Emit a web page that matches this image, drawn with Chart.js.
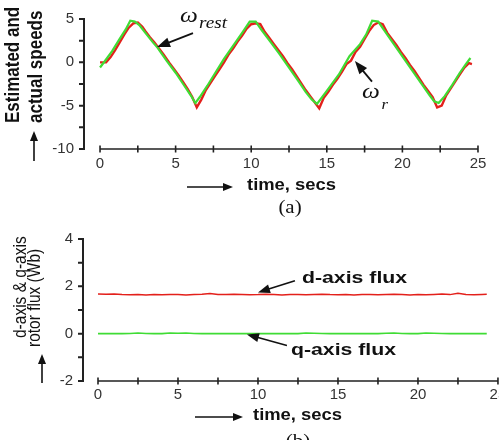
<!DOCTYPE html>
<html><head><meta charset="utf-8">
<script src="https://cdn.jsdelivr.net/npm/chart.js@4.4.1/dist/chart.umd.min.js"></script>
<style>
html,body{margin:0;padding:0;background:#fff;overflow:hidden;width:499px;height:440px}
#c1{position:absolute;left:0;top:0}
#c2{position:absolute;left:0;top:220px}
</style></head><body>
<canvas id="c1" width="499" height="220"></canvas>
<canvas id="c2" width="520" height="220"></canvas>
<script>
// ---------- data (a): speeds ----------
const estTime = [0,0.3,0.8,1.3,1.7,2.0,2.3,2.6,3.0,3.5,3.8,4.4,5.0,5.5,6.0,6.3,6.6,7.1,7.7,8.2,8.8,9.4,9.9,10.3,10.7,11.3,11.9,12.5,13.1,13.6,14.0,14.35,14.7,15.0,15.8,16.5,17.2,17.6,18.0,18.4,18.8,19.4,20.0,20.6,21.2,21.8,22.1,22.4,22.8,23.3,23.8,24.2,24.5];
const estSpeed = [-0.6,0.1,1.3,2.7,3.8,4.8,4.7,4.3,3.4,2.3,1.7,0.2,-1.2,-2.5,-3.8,-4.7,-4.0,-2.7,-1.0,0.4,1.9,3.4,4.7,4.7,3.7,2.3,0.9,-0.6,-2.1,-3.4,-4.3,-4.8,-4.0,-3.3,-1.4,0.7,2.1,3.2,4.8,4.7,3.7,2.2,0.7,-0.8,-2.3,-3.8,-4.5,-4.7,-3.9,-2.6,-1.2,-0.2,0.5];
const actTime = [0,0.4,0.7,1.0,1.3,1.6,1.9,2.2,2.5,2.8,3.0,3.3,3.6,3.9,4.2,4.6,4.9,5.2,5.5,5.8,6.1,6.4,6.7,7.0,7.3,7.6,7.9,8.2,8.5,8.8,9.1,9.4,9.7,10.0,10.3,10.6,10.9,11.2,11.5,11.8,12.1,12.4,12.7,13.0,13.3,13.6,13.9,14.2,14.5,14.8,15.1,15.4,15.7,16.0,16.3,16.6,16.9,17.2,17.5,17.8,18.1,18.4,18.7,19.0,19.3,19.6,19.9,20.2,20.5,20.8,21.1,21.4,21.7,22.0,22.3,22.6,22.9,23.2,23.5,23.8,24.1,24.4,24.6];
const actSpeed = [0,0.0,0.6,1.4,2.3,3.2,4.0,4.5,4.6,4.1,3.6,2.9,2.3,1.6,0.9,-0.1,-0.8,-1.5,-2.3,-3.1,-4.0,-5.2,-4.3,-3.2,-2.4,-1.6,-0.8,0.0,0.9,1.6,2.4,3.1,3.9,4.4,4.5,4.4,3.5,2.8,2.1,1.4,0.7,-0.1,-0.8,-1.6,-2.4,-3.2,-3.9,-4.6,-5.3,-4.1,-3.4,-2.6,-1.9,-1.1,-0.2,0.2,1.2,1.8,2.7,3.6,4.3,4.6,4.4,3.4,2.7,2.0,1.2,0.5,-0.3,-1.0,-1.8,-2.6,-3.3,-4.0,-5.2,-5.0,-3.8,-3.0,-2.2,-1.4,-0.6,-0.1,-0.2];
const speedYTicks = [-10,-7.5,-5,-2.5,0,2.5,5];
const timeTicks = [0,2.5,5,7.5,10,12.5,15,17.5,20,22.5,25];

// ---------- data (b): rotor flux ----------
const fluxTime = [0,0.5,1,1.5,2,2.5,3,3.5,4,4.5,5,5.5,6,6.5,7,7.5,8,8.5,9,9.5,10,10.5,11,11.5,12,12.5,13,13.5,14,14.5,15,15.5,16,16.5,17,17.5,18,18.5,19,19.5,20,20.5,21,21.5,22,22.5,23,23.5,24,24.3];
const dFlux = [1.68,1.67,1.68,1.65,1.64,1.66,1.63,1.65,1.64,1.66,1.65,1.63,1.66,1.67,1.70,1.66,1.65,1.67,1.66,1.64,1.65,1.67,1.65,1.63,1.66,1.65,1.64,1.66,1.67,1.65,1.64,1.66,1.63,1.65,1.66,1.64,1.66,1.67,1.65,1.63,1.66,1.64,1.66,1.68,1.65,1.71,1.66,1.64,1.66,1.67];
const qFlux = [0,0,0,0,0.01,0.03,0.01,0,0,0.03,0.02,0.03,0.01,0,0,0,0,0,0,0,0,0,0,0,0,0,0.03,0.02,0.01,0,0,0,0,0,0,0,0.02,0.03,0.01,0,0,0.03,0.02,0.01,0,0,0,0,0,0];
const fluxYTicks = [-2,-1,0,1,2,3,4];

const pts = (xs, ys) => xs.map((x, i) => ({x, y: ys[i]}));
const RED = '#e3201b', GREEN = '#3fdc34', INK = '#111';

function arrow(ctx, x1, y1, x2, y2, hl, hw, lw) {
  const a = Math.atan2(y2 - y1, x2 - x1);
  ctx.save();
  ctx.strokeStyle = INK; ctx.fillStyle = INK; ctx.lineWidth = lw;
  ctx.beginPath(); ctx.moveTo(x1, y1);
  ctx.lineTo(x2 - Math.cos(a) * hl * 0.8, y2 - Math.sin(a) * hl * 0.8); ctx.stroke();
  ctx.translate(x2, y2); ctx.rotate(a);
  ctx.beginPath(); ctx.moveTo(0, 0); ctx.lineTo(-hl, hw / 2); ctx.lineTo(-hl, -hw / 2); ctx.closePath(); ctx.fill();
  ctx.restore();
}
function text(ctx, s, x, y, font, sx, align) {
  ctx.save(); ctx.translate(x, y); ctx.scale(sx, 1);
  ctx.font = font; ctx.fillStyle = INK; ctx.textAlign = align || 'left'; ctx.textBaseline = 'middle';
  ctx.fillText(s, 0, 0); ctx.restore();
}
function vtext(ctx, s, x, yBottom, font, sx) {
  ctx.save(); ctx.translate(x, yBottom); ctx.scale(sx, 1); ctx.rotate(-Math.PI / 2);
  ctx.font = font; ctx.fillStyle = INK; ctx.textAlign = 'left'; ctx.textBaseline = 'middle';
  ctx.fillText(s, 0, 0); ctx.restore();
}

const axesPlugin = {
  id: 'customAxes',
  afterDraw(chart) {
    const {ctx, chartArea, scales: {x, y}} = chart;
    ctx.save();
    ctx.strokeStyle = '#222';
    const ax = chartArea.left;
    const yTop = y.getPixelForValue(y.max), yBot = y.getPixelForValue(y.min);
    ctx.lineWidth = 2;
    ctx.beginPath(); ctx.moveTo(ax, yTop - 1); ctx.lineTo(ax, yBot + 1);
    y.ticks.forEach(t => { const py = y.getPixelForValue(t.value); ctx.moveTo(ax, py); ctx.lineTo(ax - 5, py); });
    ctx.stroke();
    const xs = x.ticks.map(t => x.getPixelForValue(t.value));
    ctx.lineWidth = 1.6;
    ctx.beginPath(); ctx.moveTo(xs[0], yBot); ctx.lineTo(xs[xs.length - 1], yBot);
    xs.forEach(px => { ctx.moveTo(px, yBot - 3.5); ctx.lineTo(px, yBot + 3.5); });
    ctx.stroke();
    ctx.restore();
  }
};

function baseOptions(xmin, xmax, ymin, ymax, yTicks, pad, yW, xH, labelPad) {
  return {
    responsive: false, animation: false, devicePixelRatio: 1,
    layout: {padding: pad},
    plugins: {legend: {display: false}, tooltip: {enabled: false}},
    scales: {
      x: {
        type: 'linear', min: xmin, max: xmax,
        afterBuildTicks: s => { s.ticks = timeTicks.map(v => ({value: v})); },
        afterFit: s => { s.height = xH; },
        grid: {display: false, drawTicks: false},
        border: {display: false},
        ticks: {padding: labelPad, color: '#333', font: {family: 'Liberation Sans, Arial', size: 15},
          maxRotation: 0, autoSkip: false, callback: v => (v % 5 === 0 ? String(v) : '')}
      },
      y: {
        type: 'linear', min: ymin, max: ymax,
        afterBuildTicks: s => { s.ticks = yTicks.map(v => ({value: v})); },
        afterFit: s => { s.width = yW; },
        grid: {display: false, drawTicks: false},
        border: {display: false},
        ticks: {padding: 10, color: '#333', font: {family: 'Liberation Sans, Arial', size: 15},
          autoSkip: false, callback: v => (Math.abs(v) % (ymax === 5 ? 5 : 2) === 0 ? String(v) : '')}
      }
    }
  };
}

// ---------- chart (a) ----------
const annotA = {
  id: 'annotA',
  afterDraw(chart) {
    const {ctx, scales: {x, y}} = chart;
    const X = v => x.getPixelForValue(v), Y = v => y.getPixelForValue(v);
    vtext(ctx, 'Estimated and', 13, 123, 'bold 17px "Liberation Sans", Arial', 1.2);
    vtext(ctx, 'actual speeds', 36, 123, 'bold 17px "Liberation Sans", Arial', 1.2);
    arrow(ctx, 34, 161, 34, 131, 10, 8, 1.6);
    arrow(ctx, 187, 187, 233, 187, 10, 8, 1.6);
    text(ctx, 'time, secs', 247, 186, 'bold 16px "Liberation Sans", Arial', 1.15);
    text(ctx, '(a)', 290, 208, '19px "Liberation Serif", "Times New Roman", serif', 1.1, 'center');
    text(ctx, 'ω', X(5.29), Y(5.3), 'italic 21px "Liberation Serif", serif', 1.2);
    text(ctx, 'rest', X(6.55), Y(4.45), 'italic 16px "Liberation Serif", serif', 1.2);
    arrow(ctx, X(6.15), Y(3.38), X(3.77), Y(1.76), 13, 10, 1.8);
    text(ctx, 'ω', X(17.33), Y(-3.53), 'italic 21px "Liberation Serif", serif', 1.2);
    text(ctx, 'r', X(18.62), Y(-4.95), 'italic 14px "Liberation Serif", serif', 1.2);
    arrow(ctx, X(17.99), Y(-2.23), X(16.86), Y(0.14), 13, 10, 1.8);
  }
};

new Chart(document.getElementById('c1'), {
  type: 'line',
  data: {datasets: [
    {label: 'ωr', order: 2, data: pts(actTime, actSpeed), borderColor: RED, borderWidth: 2.4, pointRadius: 0, tension: 0, fill: false},
    {label: 'ωrest', order: 1, data: pts(estTime, estSpeed), borderColor: GREEN, borderWidth: 2.2, pointRadius: 0, tension: 0, fill: false}
  ]},
  options: baseOptions(-1.06, 25.53, -10, 5, speedYTicks, {top: 10, left: 0, right: 13, bottom: 0}, 84, 71, 6),
  plugins: [axesPlugin, annotA]
});

// ---------- chart (b) ----------
const annotB = {
  id: 'annotB',
  afterDraw(chart) {
    const {ctx, scales: {x, y}} = chart;
    const X = v => x.getPixelForValue(v), Y = v => y.getPixelForValue(v);
    vtext(ctx, 'd-axis & q-axis', 21, 118, '15.5px "Liberation Sans", Arial', 1.2);
    vtext(ctx, 'rotor flux (Wb)', 35, 127, '15.5px "Liberation Sans", Arial', 1.2);
    arrow(ctx, 42, 163, 42, 134, 10, 8, 1.6);
    arrow(ctx, 195, 197, 243, 197, 10, 8, 1.6);
    text(ctx, 'time, secs', 253, 196, 'bold 16px "Liberation Sans", Arial', 1.15);
    text(ctx, '(b)', 298, 222, '19px "Liberation Serif", "Times New Roman", serif', 1.1, 'center');
    text(ctx, 'd-axis flux', X(12.75), Y(2.36), 'bold 17px "Liberation Sans", Arial', 1.25);
    arrow(ctx, X(12.31), Y(2.24), X(10.0), Y(1.74), 12, 9, 1.6);
    text(ctx, 'q-axis flux', X(12.06), Y(-0.71), 'bold 17px "Liberation Sans", Arial', 1.25);
    arrow(ctx, X(11.81), Y(-0.5), X(9.31), Y(-0.03), 12, 9, 1.6);
  }
};

new Chart(document.getElementById('c2'), {
  type: 'line',
  data: {datasets: [
    {label: 'd-axis flux', data: pts(fluxTime, dFlux), borderColor: RED, borderWidth: 1.5, pointRadius: 0, tension: 0, fill: false},
    {label: 'q-axis flux', data: pts(fluxTime, qFlux), borderColor: GREEN, borderWidth: 1.6, pointRadius: 0, tension: 0, fill: false}
  ]},
  options: baseOptions(-0.9375, 25.44, -2, 4, fluxYTicks, {top: 19, left: 0, right: 15, bottom: 0}, 83, 59, 5),
  plugins: [axesPlugin, annotB]
});
</script>
</body></html>
